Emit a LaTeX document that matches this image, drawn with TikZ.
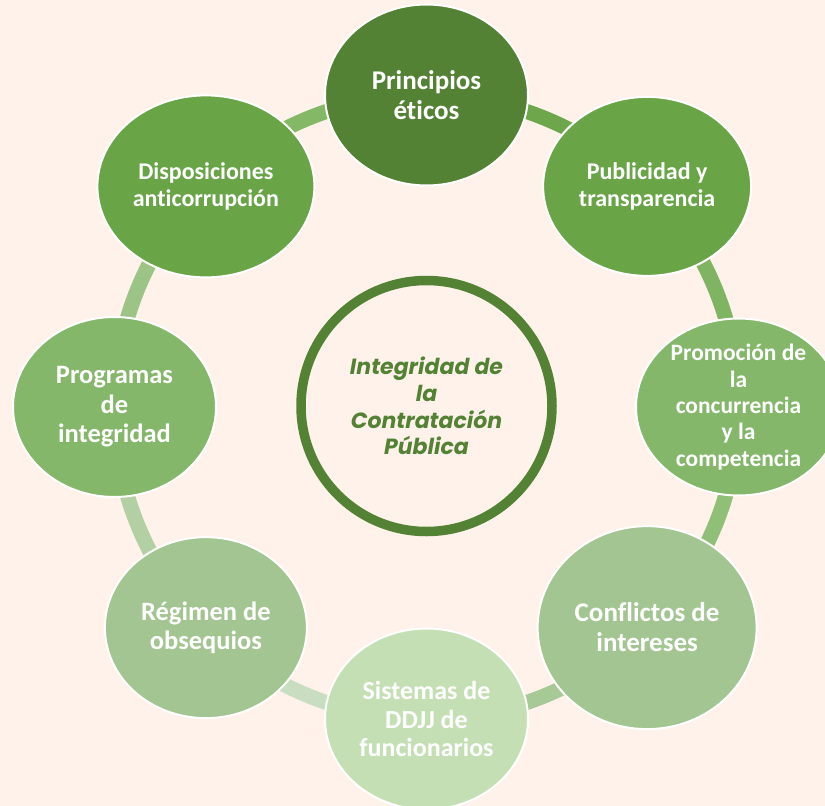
\documentclass[tikz,border=0pt]{standalone}
\usepackage{fontspec}
\setmainfont{Carlito}[Ligatures={NoCommon}]
\newfontfamily\cgfont{Poppins}
\usetikzlibrary{shapes.geometric,calc}
\definecolor{bgc}{HTML}{FEF2EA}
\definecolor{cA}{HTML}{548235}
\definecolor{cB}{HTML}{69A447}
\definecolor{cC}{HTML}{84B76A}
\definecolor{cD}{HTML}{A3C592}
\definecolor{cE}{HTML}{C5DFB5}
\definecolor{sA}{HTML}{6DA64B}
\definecolor{sB}{HTML}{7FB562}
\definecolor{sC}{HTML}{90BF78}
\definecolor{sD}{HTML}{A6C996}
\definecolor{sE}{HTML}{C9DDC1}
\definecolor{sF}{HTML}{B2D0A4}
\definecolor{sG}{HTML}{9CC487}
\definecolor{sH}{HTML}{84B867}
\tikzset{
  blob/.style={ellipse, draw=white, line width=2pt, inner sep=0pt},
  txt/.style={text=white, align=center, inner sep=0pt},
  seg/.style={line width=15pt},
}
\newcommand\fsz[2]{\fontsize{#1}{#2}\selectfont\bfseries}
\begin{document}
\begin{tikzpicture}[x=1pt,y=-1pt]
\useasboundingbox (0,0) rectangle (825,806);
\fill[bgc] (0,0) rectangle (825,806);
\coordinate (c) at (426.5,407);
\coordinate (p0) at ($(c)+(-90:312)$);
\coordinate (p1) at ($(c)+(-45:312)$);
\coordinate (p2) at ($(c)+(0:312)$);
\coordinate (p3) at ($(c)+(45:312)$);
\coordinate (p4) at ($(c)+(90:312)$);
\coordinate (p5) at ($(c)+(135:312)$);
\coordinate (p6) at ($(c)+(180:312)$);
\coordinate (p7) at ($(c)+(225:312)$);
% ring segments
\draw[seg, sA] (p0) arc[start angle=-90, end angle=-45, radius=312];
\draw[seg, sB] (p1) arc[start angle=-45, end angle=0, radius=312];
\draw[seg, sC] (p2) arc[start angle=0, end angle=45, radius=312];
\draw[seg, sD] (p3) arc[start angle=45, end angle=90, radius=312];
\draw[seg, sE] (p4) arc[start angle=90, end angle=135, radius=312];
\draw[seg, sF] (p5) arc[start angle=135, end angle=180, radius=312];
\draw[seg, sG] (p6) arc[start angle=180, end angle=225, radius=312];
\draw[seg, sH] (p7) arc[start angle=225, end angle=270, radius=312];
% centre
\node[circle, draw=cA, line width=9.5pt, minimum size=251pt, inner sep=0pt] (mid) at (426.5,406) {};
\node[text=cA, align=center, inner sep=0pt, font=\cgfont\fontsize{22}{26.7}\selectfont\bfseries\itshape] (midtxt) at (mid.center) {Integridad de\\la\\Contratación\\Pública};
% outer nodes
\node[blob, fill=cA, minimum width=203pt, minimum height=181pt,
  label={[txt, name=t0, font=\fsz{27}{30}]center:{Principios\\éticos}}] (prin) at (p0) {};
\node[blob, fill=cB, minimum width=208pt, minimum height=179pt,
  label={[txt, name=t1, font=\fsz{24}{27}]center:{Publicidad y\\transparencia}}] (pub) at (p1) {};
\node[blob, fill=cC, minimum width=205pt, minimum height=177pt,
  label={[txt, name=t2, font=\fsz{23.5}{26.3}]center:{Promoción de\\la\\concurrencia\\y la\\competencia}}] (prom) at (p2) {};
\node[blob, fill=cD, minimum width=219pt, minimum height=203pt,
  label={[txt, name=t3, font=\fsz{27}{30}]center:{Conflictos de\\intereses}}] (conf) at (p3) {};
\node[blob, fill=cE, minimum width=203pt, minimum height=181pt,
  label={[txt, name=t4, font=\fsz{26}{28.5}]center:{Sistemas de\\DDJJ de\\funcionarios}}] (sis) at (p4) {};
\node[blob, fill=cD, minimum width=202pt, minimum height=181pt,
  label={[txt, name=t5, font=\fsz{26.5}{29}]center:{Régimen de\\obsequios}}] (reg) at (p5) {};
\node[blob, fill=cC, minimum width=203pt, minimum height=180pt,
  label={[txt, name=t6, font=\fsz{26.5}{29.5}]center:{Programas\\de\\integridad}}] (prog) at (p6) {};
\node[blob, fill=cB, minimum width=217pt, minimum height=182pt,
  label={[txt, name=t7, font=\fsz{24}{27}]center:{Disposiciones\\anticorrupción}}] (disp) at (p7) {};
\end{tikzpicture}
\end{document}
